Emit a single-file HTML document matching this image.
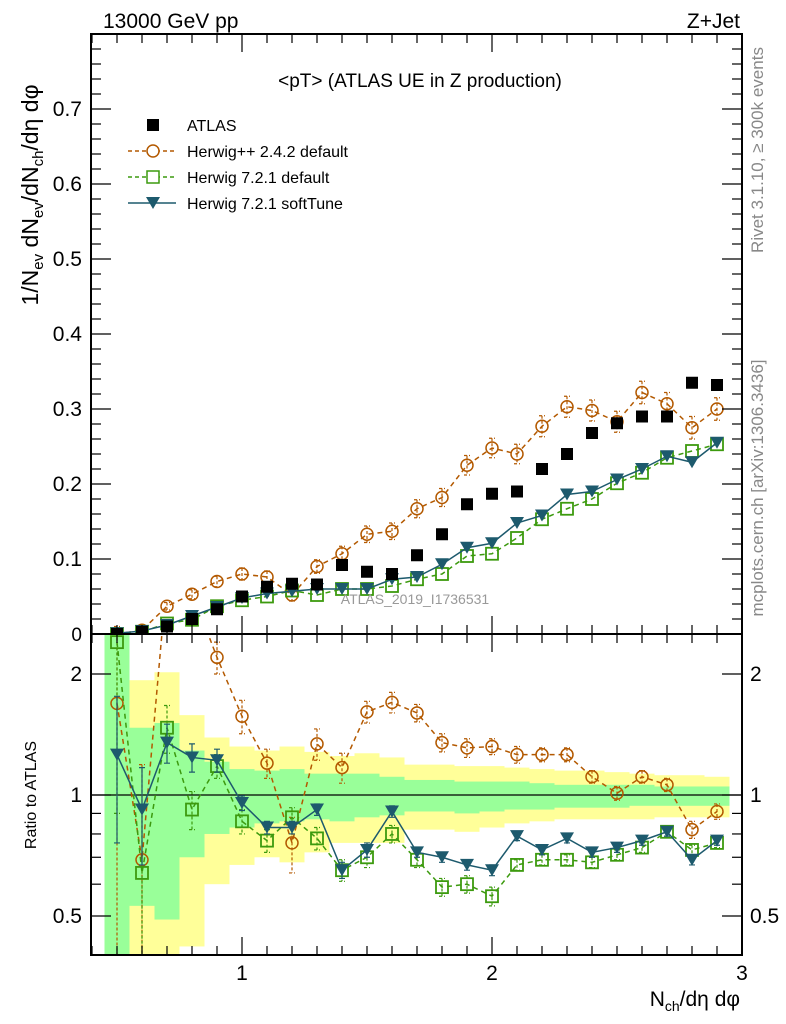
<!DOCTYPE html>
<html><head><meta charset="utf-8"><style>
html,body{margin:0;padding:0;background:#fff;overflow:hidden;width:786px;height:1024px;}
svg{display:block;font-family:"Liberation Sans",sans-serif;}
</style></head><body>
<svg id="chart" width="786" height="1024" viewBox="0 0 786 1024">
<rect width="786" height="1024" fill="#fff"/>
<g id="bands"></g>
<g id="marks"></g>
<g id="axes"></g>
<text x="103" y="28" font-size="21">13000 GeV pp</text>
<text x="740" y="28" font-size="21" text-anchor="end">Z+Jet</text>
<text x="420" y="87" font-size="19" text-anchor="middle">&lt;pT&gt; (ATLAS UE in Z production)</text>
<text x="415" y="604" font-size="14" fill="#999" text-anchor="middle">ATLAS_2019_I1736531</text>
<text transform="translate(763,150) rotate(-90)" font-size="17" fill="#888" text-anchor="middle">Rivet 3.1.10, ≥ 300k events</text>
<text transform="translate(763,488) rotate(-90)" font-size="17" fill="#888" text-anchor="middle">mcplots.cern.ch [arXiv:1306.3436]</text>
<text transform="translate(38,195) rotate(-90)" font-size="23" text-anchor="middle">1/N<tspan font-size="15" dy="5">ev</tspan><tspan dy="-5"> dN</tspan><tspan font-size="15" dy="5">ev</tspan><tspan dy="-5">/dN</tspan><tspan font-size="15" dy="5">ch</tspan><tspan dy="-5">/dη dφ</tspan></text>
<text transform="translate(36,795) rotate(-90)" font-size="16" text-anchor="middle">Ratio to ATLAS</text>
<text x="740" y="1006" font-size="21" text-anchor="end">N<tspan font-size="14" dy="5">ch</tspan><tspan dy="-5">/dη dφ</tspan></text>
<g id="legend"></g>
</svg>
<script>
const xs=[0.5,0.6,0.7,0.8,0.9,1.0,1.1,1.2,1.3,1.4,1.5,1.6,1.7,1.8,1.9,2.0,2.1,2.2,2.3,2.4,2.5,2.6,2.7,2.8,2.9];
const atlas=[0.0,0.003,0.01,0.02,0.033,0.05,0.063,0.067,0.066,0.092,0.083,0.08,0.105,0.133,0.173,0.187,0.19,0.22,0.24,0.268,0.281,0.29,0.29,0.335,0.332];
const hpp=[0.0,0.005,0.037,0.053,0.07,0.08,0.076,0.052,0.09,0.107,0.133,0.137,0.167,0.182,0.225,0.248,0.24,0.277,0.303,0.298,0.283,0.322,0.307,0.275,0.3];
const h72=[0.0,0.003,0.014,0.019,0.037,0.045,0.05,0.058,0.052,0.06,0.06,0.064,0.073,0.08,0.104,0.107,0.128,0.153,0.167,0.18,0.201,0.215,0.235,0.244,0.253];
const soft=[0.001,0.004,0.012,0.024,0.036,0.048,0.054,0.057,0.06,0.06,0.06,0.073,0.076,0.093,0.115,0.121,0.148,0.158,0.186,0.19,0.206,0.22,0.237,0.229,0.255];
const hppErr=[0.002,0.003,0.005,0.006,0.007,0.008,0.008,0.008,0.009,0.01,0.011,0.011,0.012,0.012,0.013,0.013,0.013,0.014,0.014,0.014,0.014,0.015,0.015,0.015,0.015];
const rHpp=[1.69,0.69,3.5,3.2,2.2,1.57,1.2,0.76,1.34,1.17,1.61,1.7,1.6,1.35,1.31,1.32,1.26,1.26,1.26,1.11,1.01,1.11,1.06,0.82,0.91];
const rH72=[2.4,0.64,1.47,0.92,1.18,0.86,0.77,0.88,0.78,0.65,0.7,0.8,0.69,0.59,0.6,0.56,0.67,0.69,0.69,0.68,0.71,0.74,0.81,0.73,0.76];
const rSoft=[1.26,0.92,1.35,1.24,1.22,0.955,0.83,0.83,0.92,0.65,0.73,0.91,0.72,0.7,0.67,0.65,0.79,0.73,0.78,0.72,0.74,0.77,0.81,0.69,0.77];
const rHppErr=[1.5,0.5,0.3,0.25,0.2,0.15,0.1,0.12,0.12,0.1,0.1,0.1,0.08,0.07,0.07,0.06,0.06,0.05,0.05,0.04,0.04,0.04,0.04,0.04,0.04];
const rH72Err=[1.5,0.3,0.2,0.1,0.08,0.06,0.05,0.05,0.05,0.04,0.04,0.04,0.03,0.03,0.03,0.03,0.02,0.02,0.02,0.02,0.02,0.02,0.02,0.02,0.02];
const rSoftErr=[0.5,0.25,0.15,0.1,0.08,0.04,0.03,0.03,0.03,0.03,0.03,0.03,0.02,0.02,0.02,0.02,0.02,0.02,0.02,0.02,0.02,0.02,0.02,0.02,0.02];
const yHi=[2.5,1.93,2.02,1.58,1.39,1.32,1.29,1.32,1.28,1.25,1.27,1.24,1.19,1.19,1.18,1.18,1.17,1.16,1.15,1.15,1.14,1.13,1.12,1.12,1.11];
const gHi=[2.5,1.47,1.51,1.29,1.21,1.16,1.15,1.16,1.13,1.13,1.13,1.11,1.09,1.09,1.08,1.08,1.08,1.07,1.06,1.06,1.06,1.06,1.05,1.05,1.05];
const gLo=[0.4,0.53,0.49,0.70,0.80,0.83,0.85,0.86,0.87,0.86,0.88,0.89,0.91,0.91,0.90,0.91,0.92,0.92,0.93,0.93,0.93,0.94,0.94,0.94,0.94];
const yLo=[0.4,0.4,0.4,0.42,0.60,0.67,0.70,0.68,0.72,0.76,0.76,0.76,0.82,0.82,0.81,0.83,0.85,0.86,0.87,0.87,0.87,0.87,0.88,0.88,0.88];
const mainTicks=[0.1,0.2,0.3,0.4,0.5,0.6,0.7];
const mainTickLabels=["0.1","0.2","0.3","0.4","0.5","0.6","0.7"];
const ratioTicks=[0.5,1,2];
const ratioTickLabels=["0.5","1","2"];
const xTicks=[1,2,3];
const xTickLabels=["1","2","3"];

const L=91,R=742,T=34,MB=634,RB=955;
const X=v=>242+(v-1)*(R-242)/2;
const Y=v=>MB-v*750;
const RY=v=>795-Math.log10(v)*402;
const NS="http://www.w3.org/2000/svg";
function mk(tag,parent,attrs){const e=document.createElementNS(NS,tag);for(const k in attrs)e.setAttribute(k,attrs[k]);parent.appendChild(e);return e;}
const bands=document.getElementById('bands'),marks=document.getElementById('marks'),axes=document.getElementById('axes'),legend=document.getElementById('legend');

const defs=mk('defs',document.getElementById('chart'),{});
const c1=mk('clipPath',defs,{id:'cm'});mk('rect',c1,{x:L,y:T,width:R-L,height:MB-T});
const c2=mk('clipPath',defs,{id:'cr'});mk('rect',c2,{x:L,y:MB,width:R-L,height:RB-MB});
const gm=mk('g',marks,{'clip-path':'url(#cm)'});


const gr=mk('g',marks,{'clip-path':'url(#cr)'});


const gb=mk('g',bands,{'clip-path':'url(#cr)'});

xs.forEach((x,i)=>{
  const x0=X(x-0.05),w=X(x+0.05)-x0;
  let r=mk('rect',gb,{x:x0,y:RY(yHi[i]),width:w,height:RY(yLo[i])-RY(yHi[i]),fill:'#ffff99'});
  
  
  r=mk('rect',gb,{x:x0,y:RY(gHi[i]),width:w,height:RY(gLo[i])-RY(gHi[i]),fill:'#99ff99'});
  
  
});
let one=mk('line',gr,{x1:L,x2:R,y1:RY(1),y2:RY(1),stroke:'#000','stroke-width':1.2});



function series(g,vals,errs,yf,color,dash,marker,name){
  const pts=xs.map((x,i)=>X(x)+','+yf(vals[i])).join(' ');
  const pl=mk('polyline',g,{points:pts,fill:'none',stroke:color,'stroke-width':1.5,'stroke-dasharray':dash});
  
  
  xs.forEach((x,i)=>{
    const cx=X(x),cy=yf(vals[i]);
    if(errs){
      const lo=Math.max(vals[i]-errs[i],0.01),hi=vals[i]+errs[i];
      const e=mk('path',g,{d:`M${cx},${yf(hi)}V${yf(lo)}M${cx-3},${yf(hi)}h6M${cx-3},${yf(lo)}h6`,stroke:color,'stroke-width':1.2,fill:'none','stroke-dasharray':dash?'3,2':''});
      
      
    }
    let m;
    if(marker==='circle')m=mk('circle',g,{cx:cx,cy:cy,r:6,fill:'none',stroke:color,'stroke-width':1.5});
    else if(marker==='osq')m=mk('rect',g,{x:cx-6,y:cy-6,width:12,height:12,fill:'none',stroke:color,'stroke-width':1.8});
    else if(marker==='tri')m=mk('path',g,{d:`M${cx-7},${cy-6}h14l-7,12z`,fill:color});
    else m=mk('rect',g,{x:cx-6,y:cy-6,width:12,height:12,fill:color});
    
    
  });
}
const cO='#b35900',cG='#3c9a0e',cB='#1d5a6d';
series(gm,hpp,hppErr,Y,cO,'5,4','circle','herwigpp');
series(gm,h72,null,Y,cG,'5,4','osq','herwig721');
series(gm,soft,null,Y,cB,'','tri','softtune');
xs.forEach((x,i)=>{const m=mk('rect',gm,{x:X(x)-6,y:Y(atlas[i])-6,width:12,height:12,fill:'#000'});
  
  });
series(gr,rHpp,rHppErr,RY,cO,'5,4','circle','herwigpp-ratio');
series(gr,rH72,rH72Err,RY,cG,'5,4','osq','herwig721-ratio');
series(gr,rSoft,rSoftErr,RY,cB,'','tri','softtune-ratio');

[[T,MB],[MB,RB]].forEach(([a,b])=>{const f=mk('rect',axes,{x:L,y:a,width:R-L,height:b-a,fill:'none',stroke:'#000','stroke-width':2});
  
  });
for(let k=4;k<=30;k++){const v=k/10,major=(k%10===0),len=major?18:9;const px=X(v);
  [[T,1],[MB,-1],[MB,1],[RB,-1]].forEach(([y0,s])=>mk('line',axes,{x1:px,x2:px,y1:y0,y2:y0+s*len,stroke:'#000','stroke-width':1.2}));}
xTicks.forEach((v,i)=>{const t=mk('text',axes,{x:X(v),y:980,'font-size':21,'text-anchor':'middle'});t.textContent=xTickLabels[i];
  
  });
for(let k=1;k<=40;k++){const v=k*0.02,major=(k%5===0),len=major?20:10;const py=Y(v);if(py<T)continue;
  mk('line',axes,{x1:L,x2:L+len,y1:py,y2:py,stroke:'#000','stroke-width':1.2});
  mk('line',axes,{x1:R,x2:R-len,y1:py,y2:py,stroke:'#000','stroke-width':1.2});}
mainTicks.forEach((v,i)=>{const t=mk('text',axes,{x:82,y:Y(v)+7,'font-size':21,'text-anchor':'end'});t.textContent=mainTickLabels[i];
  
  });
let t0=mk('text',axes,{x:82,y:641,'font-size':19,'text-anchor':'end'});t0.textContent='0';
[0.4,0.5,0.6,0.7,0.8,0.9,1,2].forEach(v=>{const major=(v===0.5||v===1||v===2),len=major?20:10,py=RY(v);
  mk('line',axes,{x1:L,x2:L+len,y1:py,y2:py,stroke:'#000','stroke-width':1.2});
  mk('line',axes,{x1:R,x2:R-len,y1:py,y2:py,stroke:'#000','stroke-width':1.2});});
ratioTicks.forEach((v,i)=>{[[82,'end'],[750,'start']].forEach(([x,a])=>{const t=mk('text',axes,{x:x,y:RY(v)+7,'font-size':21,'text-anchor':a});t.textContent=ratioTickLabels[i];
  
  });});

const leg=[['ATLAS','#000','','sq'],['Herwig++ 2.4.2 default',cO,'4,3','circle'],['Herwig 7.2.1 default',cG,'4,3','osq'],['Herwig 7.2.1 softTune',cB,'','tri']];
leg.forEach((e,i)=>{const cy=125+i*26;const g=mk('g',legend,{});
  
  
  if(e[3]!=='sq')mk('line',g,{x1:128,x2:176,y1:cy,y2:cy,stroke:e[1],'stroke-width':1.5,'stroke-dasharray':e[2]});
  if(e[3]==='sq')mk('rect',g,{x:147,y:cy-6,width:12,height:12,fill:'#000'});
  else if(e[3]==='circle')mk('circle',g,{cx:153,cy:cy,r:6,fill:'#fff',stroke:e[1],'stroke-width':1.5});
  else if(e[3]==='osq')mk('rect',g,{x:147,y:cy-6,width:12,height:12,fill:'#fff',stroke:e[1],'stroke-width':1.5});
  else mk('path',g,{d:`M${146},${cy-6}h14l-7,12z`,fill:e[1]});
  const t=mk('text',g,{x:187,y:cy+6,'font-size':16});t.textContent=e[0];});
</script>
</body></html>
